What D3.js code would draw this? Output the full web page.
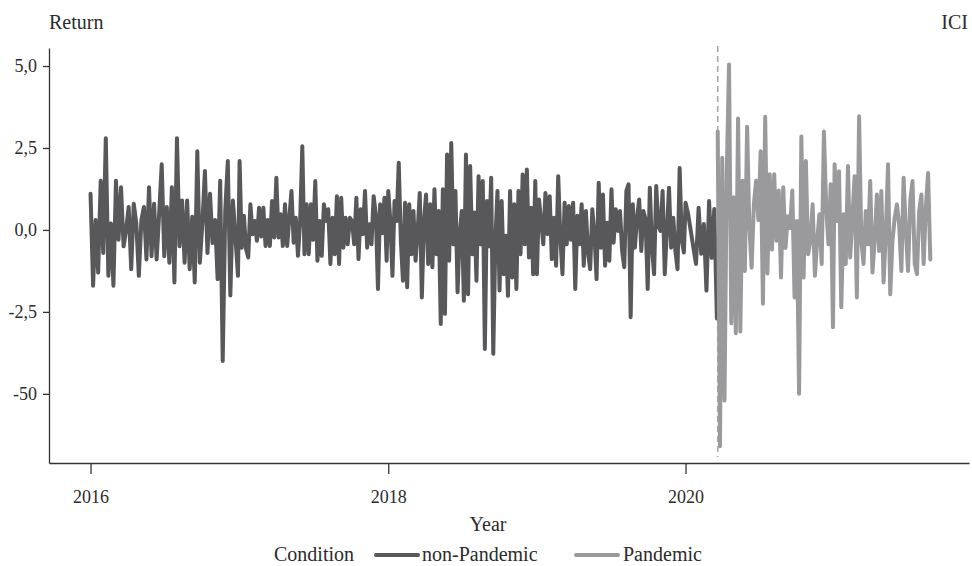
<!DOCTYPE html>
<html>
<head>
<meta charset="utf-8">
<script src="https://cdn.jsdelivr.net/npm/d3@7"></script>
<style>
  body { margin: 0; background: #fff; }
  svg text { font-family: "Liberation Serif", "Times New Roman", serif; fill: #2b2b2b; }
</style>
</head>
<body>
<div id="chart"></div>
<script>
// Daily-ish returns of ICI, split into non-pandemic / pandemic periods

const width = 972, height = 566;

// Axis ticks
const yTickValues = [5, 2.5, 0, -2.5, -5];
const yTickLabels = ["5,0", "2,5", "0,0", "-2,5", "-50"];  // "-50" is as printed in the source
const xTickYears = [2016, 2018, 2020];

// Legend / conditions
const conditions = ["non-Pandemic", "Pandemic"];
const conditionColors = ["#58585b", "#9a9a9d"];
const pandemicStart = "2020-03-20";

// Return values, one array per period
const returns2016 = [1.1, -1.7, 0.3, -1.3, 1.5, -0.7, 2.8, -1.4, 0.2, -1.7, 1.5, -0.3, 1.3, -0.5, 0.0, 0.7,
    -1.2, 0.8, 0.2, -1.4, 0.3, 0.7, -0.9, 1.3, -0.8, 0.8, -0.9, 0.5, 2.0, -0.8, 0.7, -1.0, 1.3, -1.6, 2.8,
    -0.5, 0.9, -1.0, 0.9, -1.2, 0.4, -1.6, 2.4, -1.0, 0.2, 1.8, -0.7, 1.1, -0.4, 0.3, -1.5, 1.5, -4.0,
    0.6, 2.1, -2.0, 0.9, -0.2, -1.4];
const returns2017 = [2.1, -0.54, 0.43, -0.59, -0.84, 0.78, -0.13, 0.27, -0.33, 0.68, -0.2, 0.68, -0.49, 0.3,
    -0.49, 0.88, -0.23, 1.59, -0.23, 0.48, -0.49, 0.78, -0.49, 0.37, 1.19, -0.39, 0.37, -0.79, 0.27, 2.55,
    -0.74, 0.78, -0.74, 0.78, -0.3, 1.49, -0.94, 0.27, -0.79, 0.78, 0.27, 0.63, -1.04, 0.37, -0.74, 1.03,
    -1.04, 0.98, -0.54, 0.37, -0.44, 0.37, 0.27, -0.44, 0.98, -0.89, 0.63, -0.13, 1.19, -0.54, 0.17, -0.44,
    1.03, 0.48, -1.80, 0.78, -0.1, 0.98, -0.94];
const returns2018 = [1.19, 0.27, -1.40, 0.88, 0.27, 2.05, -0.33, -1.55, 0.83, -1.75, 0.78, -0.74, 0.58, -0.94,
    -0.03, 1.13, -2.06, 0.27, 1.08, -1.04, 0.78, -1.14, 1.24, -0.74, 0.58, -2.87, 1.24, -2.56, 2.30, -0.94,
    2.65, -0.44, 1.19, -1.90, -0.13, 0.58, -2.16, 2.30, -1.96, 1.95, -0.74, 0.53, -1.55, 1.64, -0.44, 1.49,
    -3.63, 0.88, -0.5, 1.59, -3.78, -0.33, 1.19, -1.85, 0.88, -1.35, -0.18, -2.01, 1.19, -1.45, 0.78, -1.80,
    1.19, -0.74, 1.69, -0.44, 1.84, -0.84, 0.68, -1.35, 1.49];
const returns2019 = [-1.35, 0.93, 0.27, -0.44, 1.13, -0.13, 1.03, -0.89, 0.37, -1.09, 1.64, -0.23, -1.35, 0.83,
    -0.44, 0.73, -0.3, 0.83, -1.80, 0.43, -0.44, 0.78, -1.09, 0.58, -0.69, -1.20, 0.63, -0.13, -1.50, 1.44,
    -0.54, 1.08, -1.09, 0.22, -0.94, 1.24, -0.39, 0.63, -0.03, 0.58, -0.64, -1.14, 1.19, 1.39, -2.66, 0.78,
    -0.54, 0.37, 0.93, -0.64, 0.58, 0.32, -1.80, 1.29, -0.54, -1.35, 1.34, 0.12, -0.03, 1.19, -1.35, -0.03,
    1.29, -0.54, 0.37, -0.64, -1.20, 1.89, -0.33, -0.69];
const returns2020Pre = [0.83, 0.48, -0.03, -0.54, -1.04, 0.68, -0.73, 0.18, -1.85, 0.88, -0.85, 0.64, -2.7];
const returns2020Pandemic = [3.0, -6.6, 2.2, -5.2, 1.7, 5.05, -2.85, 1.0, -3.15, 3.4, -3.1, 1.5, -1.25, 3.15,
    0.1, -1.15, 0.8, 1.5, 0.3, 2.4, -2.25, 3.45, -1.33, 1.7, -0.6, 1.7, -0.33, 1.2, -1.45, 1.3, -0.55, 0.42,
    0.06, 1.2, -2.06, 0.27, -5.0, 2.85, -1.45, 2.1, -0.74, -0.33, 0.78, -1.4, -0.33, 0.48, -1.04, 3.0, 0.68,
    -0.44, 1.39, -2.97];
const returns2021 = [2.0, 0.27, 1.79, -2.36, 0.48, -1.04, 1.95, -0.84, 0.37, 1.64, -2.06, 3.47, -0.33, -1.04,
    0.58, -0.44, 1.49, -1.3, -0.33, 1.08, -0.64, 1.19, -1.6, -0.13, 2.0, -1.96, -0.33, 0.37, 0.78, 0.17,
    -1.25, 1.59, -0.03, -1.25, 0.88, 1.49, -1.04, -1.35, 0.58, 1.08, -1.04, 0.68, 1.74, -0.9];

// Each period spans a date range; its values are spread across it in order
const periods = [
    {condition: "non-Pandemic", start: "2016-01-01", end: "2016-12-28", values: returns2016},
    {condition: "non-Pandemic", start: "2017-01-01", end: "2017-12-28", values: returns2017},
    {condition: "non-Pandemic", start: "2018-01-01", end: "2018-12-28", values: returns2018},
    {condition: "non-Pandemic", start: "2019-01-01", end: "2019-12-28", values: returns2019},
    {condition: "non-Pandemic", start: "2020-01-01", end: "2020-03-18", values: returns2020Pre},
    {condition: "Pandemic", start: "2020-03-20", end: "2020-12-28", values: returns2020Pandemic},
    {condition: "Pandemic", start: "2021-01-01", end: "2021-08-24", values: returns2021}
];

const parseDate = d3.timeParse("%Y-%m-%d");

function buildSeries(condition) {
    let points = [];
    periods.filter(p => p.condition === condition).forEach(function (p) {
        const t0 = parseDate(p.start).getTime(), t1 = parseDate(p.end).getTime();
        const n = p.values.length;
        p.values.forEach(function (v, i) {
            points.push({date: new Date(t0 + (t1 - t0) * i / (n - 1)), value: v});
        });
    });
    return points;
}

const svg = d3.select("#chart").append("svg")
              .attr("width", width)
              .attr("height", height);

// Scales
const xScale = d3.scaleTime()
                 .domain([new Date(2015, 8, 21), new Date(2021, 10, 27)])
                 .range([49, 969]);
const yScale = d3.scaleLinear()
                 .domain([-7.11, 5.55])
                 .range([463, 48]);

// Dashed marker at pandemic start
svg.append("line")
   .attr("x1", xScale(parseDate(pandemicStart)))
   .attr("x2", xScale(parseDate(pandemicStart)))
   .attr("y1", 46)
   .attr("y2", 457)
   .attr("stroke", "#aaaaac")
   .attr("stroke-width", 1.6)
   .attr("stroke-dasharray", "6,4");

// Lines
const line = d3.line()
               .x(d => xScale(d.date))
               .y(d => yScale(d.value));

conditions.forEach(function (c, i) {
    svg.append("path")
       .datum(buildSeries(c))
       .attr("d", line)
       .attr("fill", "none")
       .attr("stroke", conditionColors[i])
       .attr("stroke-width", 4)
       .attr("stroke-linejoin", "round")
       .attr("stroke-linecap", "round");
});

// X axis
const xAxis = svg.append("g")
   .attr("transform", "translate(0,463)")
   .call(d3.axisBottom(xScale)
           .tickValues(xTickYears.map(y => new Date(y, 0, 1)))
           .tickFormat(d3.timeFormat("%Y"))
           .tickSize(11)
           .tickSizeOuter(0)
           .tickPadding(16));

// Y axis
const yAxis = svg.append("g")
   .attr("transform", "translate(49,0)")
   .call(d3.axisLeft(yScale)
           .tickValues(yTickValues)
           .tickFormat((d, i) => yTickLabels[i])
           .tickSize(6)
           .tickSizeOuter(0)
           .tickPadding(6));

[xAxis, yAxis].forEach(function (g) {
    g.selectAll("path, line").attr("stroke", "#333").attr("stroke-width", 1.3);
    g.selectAll("text").attr("font-size", 18).attr("fill", "#2b2b2b")
     .style("font-family", '"Liberation Serif", serif');
});

// Titles
svg.append("text").attr("x", 49).attr("y", 29).attr("font-size", 20).text("Return");
svg.append("text").attr("x", 968).attr("y", 29).attr("font-size", 20)
   .attr("text-anchor", "end").text("ICI");
svg.append("text").attr("x", 488).attr("y", 531).attr("font-size", 20)
   .attr("text-anchor", "middle").text("Year");

// Legend
const legend = svg.append("g").attr("transform", "translate(0,561)");
legend.append("text").attr("x", 274).attr("y", 0).attr("font-size", 20).text("Condition");
const legendX = [[376, 418, 422], [576, 618, 623]];
conditions.forEach(function (c, i) {
    legend.append("line")
          .attr("x1", legendX[i][0]).attr("x2", legendX[i][1])
          .attr("y1", -6).attr("y2", -6)
          .attr("stroke", conditionColors[i])
          .attr("stroke-width", 4)
          .attr("stroke-linecap", "round");
    legend.append("text").attr("x", legendX[i][2]).attr("y", 0).attr("font-size", 20).text(c);
});
</script>
</body>
</html>
